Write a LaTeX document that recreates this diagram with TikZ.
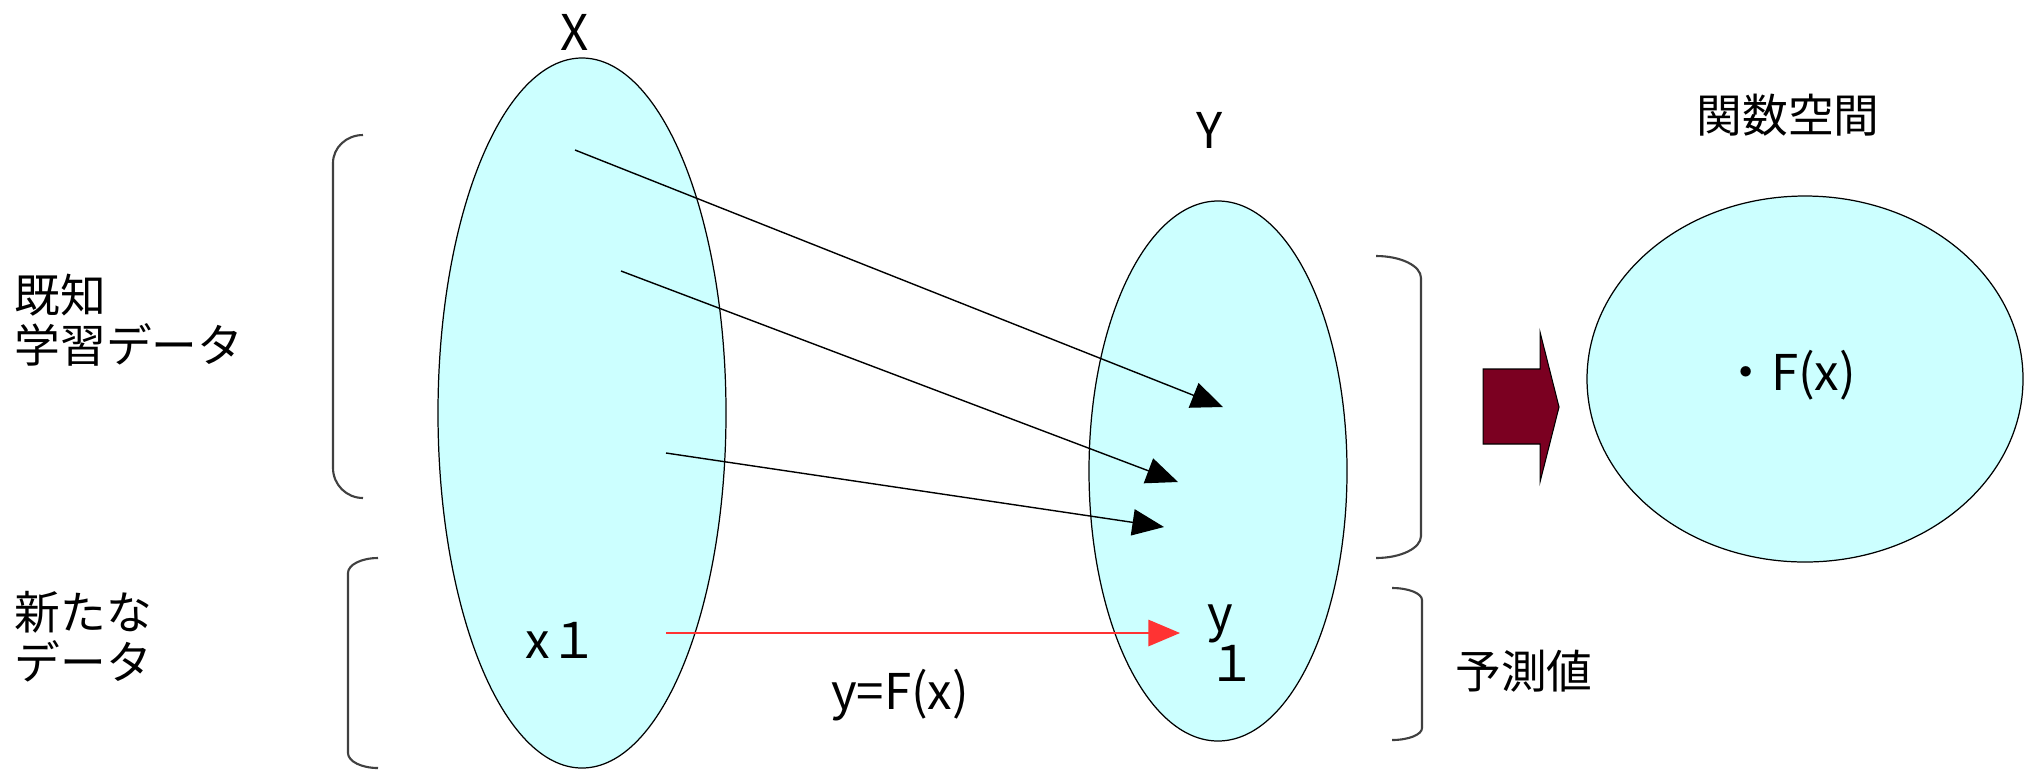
\documentclass[tikz,border=0pt]{standalone}
\usepackage{fontspec}
\newfontfamily\jpfont{Noto Sans CJK JP}
\usepackage{tikz}
\usetikzlibrary{arrows.meta}

\definecolor{setcyan}{RGB}{204,255,255}
\definecolor{maroon}{RGB}{123,0,33}
\definecolor{mapred}{RGB}{255,51,51}

\begin{document}
\begin{tikzpicture}[x=0.01cm,y=-0.01cm,>={Triangle[length=9pt,width=7.5pt]},
  lbl/.style={font=\jpfont\fontsize{13pt}{14.2pt}\selectfont,inner sep=0pt},
  latin/.style={font=\jpfont\fontsize{14pt}{14.2pt}\selectfont,inner sep=0pt},
  setshape/.style={draw=black,line width=0.35pt,fill=setcyan},
  bracket/.style={draw=black!75,line width=0.6pt},
  mapto/.style={->,line width=0.4pt}]

  \useasboundingbox (0,0) rectangle (2025,769);

  %================= 集合 X, Y と関数空間 =================
  \fill[setshape] (582,413) ellipse (144 and 355);    % X
  \fill[setshape] (1218,471) ellipse (129 and 270);   % Y
  \fill[setshape] (1805,379) ellipse (218 and 183);   % 関数空間

  \node[latin] (labX) at (575,32) {X};
  \node[latin] (labY) at (1210,130) {Y};
  \node[lbl] (labF) at (1788,115) {関数空間};
  \node[latin] (Fx) at (1789,375) {・F(x)};

  % ------- 左側のラベル -------
  \node[lbl,align=left,anchor=west] (known) at (14,320) {既知\\学習データ};
  \node[lbl,align=left,anchor=west] (newdata) at (14,637) {新たな\\データ};

  % ------- 括弧 -------
  \draw[bracket] (363,135) arc (270:180:30 and 28) -- (333,468) arc (180:90:30 and 30);
  \draw[bracket] (378,558) arc (270:180:30 and 15) -- (348,753) arc (180:90:30 and 15);
  \draw[bracket] (1376,256) arc (270:360:45 and 22) -- (1421,536) arc (0:90:45 and 22);
  \draw[bracket] (1392,588) arc (270:360:30 and 12) -- (1422,728) arc (0:90:30 and 12);

  %================= 学習データの対応 =================
  \coordinate (xa) at (575,150);
  \coordinate (xb) at (621,271);
  \coordinate (xc) at (666,453);
  \coordinate (ya) at (1223,407);
  \coordinate (yb) at (1178,482);
  \coordinate (yc) at (1164,527);
  \draw[mapto] (xa) -- (ya);
  \draw[mapto] (xb) -- (yb);
  \draw[mapto] (xc) -- (yc);

  %================= 新たなデータと予測値 =================
  \node[latin] (x1) at (562,640) {x１};
  \node[latin,align=left,anchor=west] (y1) at (1207,643) {y\\１};
  \coordinate (xs) at (666,633);
  \coordinate (ye) at (1180,633);
  \draw[mapto,draw=mapred,fill=mapred,line width=0.5pt] (xs) -- (ye);
  \node[latin] (rule) at (900,695) {y=F(x)};
  \node[lbl] (pred) at (1524,671) {予測値};

  % ------- 関数空間への太矢印 -------
  \filldraw[fill=maroon,draw=black,line width=0.3pt]
    (1483,369) -- (1540,369) -- (1540,332) -- (1559,407)
    -- (1540,482) -- (1540,444) -- (1483,444) -- cycle;

\end{tikzpicture}
\end{document}
